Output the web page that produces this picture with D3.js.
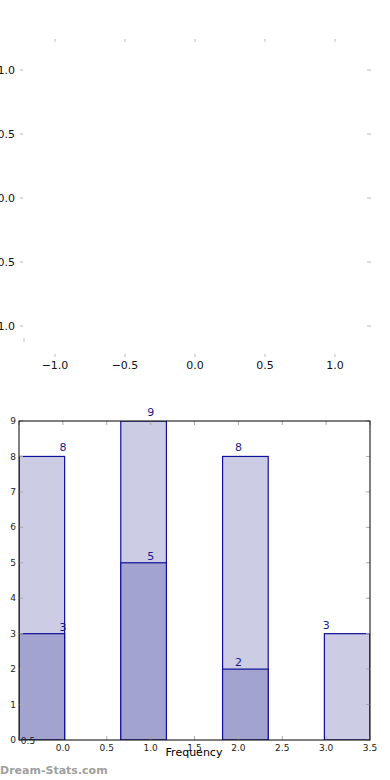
<!DOCTYPE html>
<html lang="en">
<head>
  <meta charset="utf-8">
  <script src="https://d3js.org/d3.v7.min.js" charset="utf-8"></script>
  <title>Frequency</title>
  <style>
    body { margin: 0; background: #fff; }
    svg { display: block; font-family: "DejaVu Sans", sans-serif; }
  </style>
</head>
<body>
<svg width="390" height="780"></svg>
<script>
// top (empty) panel ticks
var topXTicks = [-1.0, -0.5, 0.0, 0.5, 1.0];
var topYTicks = [1.0, 0.5, 0.0, -0.5, -1.0];

// bottom histogram
var binStarts = [-0.5, 0.66, 1.82, 2.98];
var binWidth = 0.52;
var labelPos = [0, 1, 2, 3];
var totalCounts = [8, 9, 8, 3];
var subCounts = [3, 5, 2, 0];
var xTicks = [-0.5, 0.0, 0.5, 1.0, 1.5, 2.0, 2.5, 3.0, 3.5];
var yTicks = [0, 1, 2, 3, 4, 5, 6, 7, 8, 9];

var bins = binStarts.map(function(s, i) {
  return {start: s, pos: labelPos[i], total: totalCounts[i], sub: subCounts[i]};
});

var svg = d3.select("svg");
var fmt = function(d) { return d3.format(".1f")(d).replace("-", "\u2212"); };

// ---- top panel ----
var tx = d3.scaleLinear().domain([-1.243, 1.243]).range([21, 369]);
var ty = d3.scaleLinear().domain([-1, 1]).range([326, 70]);
var upper = svg.append("g");

upper.selectAll(".tt").data(topXTicks).enter().append("line")
    .attr("x1", function(d) { return tx(d); }).attr("x2", function(d) { return tx(d); })
    .attr("y1", 39).attr("y2", 42).attr("stroke", "#bbb");
upper.selectAll(".tb").data(topXTicks).enter().append("line")
    .attr("x1", function(d) { return tx(d); }).attr("x2", function(d) { return tx(d); })
    .attr("y1", 354).attr("y2", 357).attr("stroke", "#bbb");
upper.selectAll(".txl").data(topXTicks).enter().append("text")
    .attr("x", function(d) { return tx(d); }).attr("y", 369)
    .attr("text-anchor", "middle").style("font-size", "11px").attr("fill", "#111")
    .text(fmt);
upper.selectAll(".tl").data(topYTicks).enter().append("line")
    .attr("x1", 20).attr("x2", 23)
    .attr("y1", function(d) { return ty(d); }).attr("y2", function(d) { return ty(d); })
    .attr("stroke", "#bbb");
upper.selectAll(".tr").data(topYTicks).enter().append("line")
    .attr("x1", 367).attr("x2", 371)
    .attr("y1", function(d) { return ty(d); }).attr("y2", function(d) { return ty(d); })
    .attr("stroke", "#bbb");
upper.selectAll(".tyl").data(topYTicks).enter().append("text")
    .attr("x", 15).attr("y", function(d) { return ty(d); }).attr("dy", "0.35em")
    .attr("text-anchor", "end").style("font-size", "11px").attr("fill", "#111")
    .text(fmt);
upper.append("line").attr("x1", 24).attr("x2", 24).attr("y1", 338).attr("y2", 342).attr("stroke", "#bbb");

// ---- bottom histogram ----
var x = d3.scaleLinear().domain([-0.5, 3.5]).range([19, 370]);
var y = d3.scaleLinear().domain([0, 9]).range([740, 421]);
var g = svg.append("g");

g.append("clipPath").attr("id", "clip").append("rect")
    .attr("x", 19).attr("y", 421).attr("width", 351).attr("height", 319);

var bars = g.append("g").attr("clip-path", "url(#clip)");
var bw = x(binWidth) - x(0);

bars.selectAll(".light").data(bins).enter().append("rect")
    .attr("x", function(d) { return x(d.start); })
    .attr("width", bw)
    .attr("y", function(d) { return y(d.total); })
    .attr("height", function(d) { return y(0) - y(d.total); })
    .attr("fill", "#cccce5").attr("stroke", "#10109a").attr("stroke-width", 1.2);

bars.selectAll(".dark").data(bins.filter(function(d) { return d.sub > 0; })).enter().append("rect")
    .attr("x", function(d) { return x(d.start); })
    .attr("width", bw)
    .attr("y", function(d) { return y(d.sub); })
    .attr("height", function(d) { return y(0) - y(d.sub); })
    .attr("fill", "#a3a3cf").attr("stroke", "#10109a").attr("stroke-width", 1.2);

g.selectAll(".lt").data(bins).enter().append("text")
    .attr("x", function(d) { return x(d.pos); })
    .attr("y", function(d) { return y(d.total) - 5; })
    .attr("text-anchor", "middle").style("font-size", "11px").attr("fill", "#1a1a8c")
    .text(function(d) { return d.total; });
g.selectAll(".ld").data(bins.filter(function(d) { return d.sub > 0; })).enter().append("text")
    .attr("x", function(d) { return x(d.pos); })
    .attr("y", function(d) { return y(d.sub) - 3; })
    .attr("text-anchor", "middle").style("font-size", "11px").attr("fill", "#1a1a8c")
    .text(function(d) { return d.sub; });

// inner ticks
g.selectAll(".xb").data(xTicks).enter().append("line")
    .attr("x1", function(d) { return x(d); }).attr("x2", function(d) { return x(d); })
    .attr("y1", 736).attr("y2", 740).attr("stroke", "#aaa");
g.selectAll(".xt").data(xTicks).enter().append("line")
    .attr("x1", function(d) { return x(d); }).attr("x2", function(d) { return x(d); })
    .attr("y1", 421).attr("y2", 425).attr("stroke", "#aaa");
g.selectAll(".yl").data(yTicks).enter().append("line")
    .attr("x1", 19).attr("x2", 23)
    .attr("y1", function(d) { return y(d); }).attr("y2", function(d) { return y(d); })
    .attr("stroke", "#aaa");
g.selectAll(".yr").data(yTicks).enter().append("line")
    .attr("x1", 366).attr("x2", 370)
    .attr("y1", function(d) { return y(d); }).attr("y2", function(d) { return y(d); })
    .attr("stroke", "#aaa");

// frame
g.append("rect").attr("x", 19).attr("y", 421).attr("width", 351).attr("height", 319)
    .attr("fill", "none").attr("stroke", "#000").attr("stroke-width", 1);

g.selectAll(".yt").data(yTicks).enter().append("text")
    .attr("x", 16).attr("y", function(d) { return y(d); }).attr("dy", "0.35em")
    .attr("text-anchor", "end").style("font-size", "9px").attr("fill", "#222")
    .text(function(d) { return d; });
g.selectAll(".xl").data(xTicks).enter().append("text")
    .attr("x", function(d, i) { return i === 0 ? x(d) + 9 : x(d); })
    .attr("y", function(d, i) { return i === 0 ? 744 : 751; })
    .attr("text-anchor", "middle").style("font-size", "9px").attr("fill", "#222")
    .text(function(d) { return d3.format(".1f")(Math.abs(d)); });

g.append("text").attr("x", 194).attr("y", 756).attr("text-anchor", "middle")
    .style("font-size", "11px").attr("fill", "#000").text("Frequency");

svg.append("text").attr("x", 0).attr("y", 774)
    .style("font-size", "11px").style("font-weight", "600").attr("fill", "#a0a0a0")
    .text("Dream-Stats.com");
</script>
</body>
</html>
